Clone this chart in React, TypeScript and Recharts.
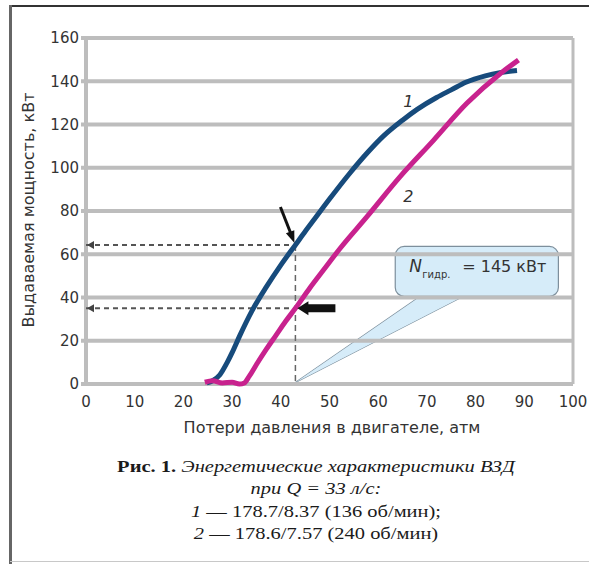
import {
  ComposedChart,
  Line,
  ReferenceArea,
  ReferenceDot,
  ReferenceLine,
  XAxis,
  YAxis
} from "recharts";

// Pressure loss in the motor, atm
const pressureTicks = [0, 10, 20, 30, 40, 50, 60, 70, 80, 90, 100];
// Output power, kW
const powerTicks = [0, 20, 40, 60, 80, 100, 120, 140, 160];

// Curve 1 — 178.7/8.37 (136 rpm)
const pressure1 = [24.8, 26, 27.5, 29, 30, 31.6, 34, 37, 40, 43, 45, 47, 50, 54, 58, 61, 65, 68, 72, 75, 78, 82, 85, 88.5];
const power1 = [0.5, 1.5, 4.3, 10, 14.5, 22.5, 33.5, 44.8, 55, 64.3, 70.5, 76.5, 85.5, 97, 107.5, 114.5, 122, 127, 132.5, 136, 139.5, 142.5, 144, 145];

// Curve 2 — 178.6/7.57 (240 rpm)
const pressure2 = [24.4, 26, 28, 30, 31.5, 32.5, 33.5, 35, 37, 39, 41, 43, 46, 48.8, 52.2, 57.7, 64.5, 71.4, 78.2, 85.1, 88.8];
const power2 = [0.8, 1.5, 0.5, 0.8, 0, 0.5, 3.5, 9, 16, 22.5, 29, 35, 44.5, 52.8, 62.8, 77.4, 95.9, 112.8, 129.8, 143.6, 149.8];

// Marked operating point
const markPressure = 43;
const markPower1 = 64.3;
const markPower2 = 35;

const curve1 = pressure1.map((p, i) => ({ p, n: power1[i] }));
const curve2 = pressure2.map((p, i) => ({ p, n: power2[i] }));

const SANS = "DejaVu Sans, Arial, sans-serif";
const SERIF = "Liberation Serif, Times New Roman, serif";
const GRID = "#bdbdbd";
const TEXT = "#333";

const leftArrowHead = (props: any) => (
  <polygon
    points={`${props.cx + 1},${props.cy} ${props.cx + 8},${props.cy - 4} ${props.cx + 8},${props.cy + 4}`}
    fill="#444"
  />
);

const pointerArrow = (props: any) => {
  const { cx, cy } = props;
  return (
    <g>
      <line x1={cx - 15} y1={cy - 38} x2={cx - 4} y2={cy - 10} stroke="#111" strokeWidth={3} />
      <polygon points={`${cx - 1},${cy - 2} ${cx - 1.1},${cy - 14.8} ${cx - 9.5},${cy - 11.6}`} fill="#111" />
    </g>
  );
};

const blockArrow = (props: any) => {
  const { cx, cy } = props;
  return (
    <polygon
      points={`${cx + 2},${cy} ${cx + 13},${cy - 7} ${cx + 13},${cy - 4} ${cx + 40},${cy - 4} ${cx + 40},${cy + 4} ${cx + 13},${cy + 4} ${cx + 13},${cy + 7}`}
      fill="#111"
    />
  );
};

const curveLabel = (text: string) => (props: any) => (
  <text
    x={props.cx}
    y={props.cy}
    textAnchor="middle"
    dominantBaseline="central"
    fontFamily={SANS}
    fontStyle="italic"
    fontSize={16}
    fill={TEXT}
  >
    {text}
  </text>
);

// Callout tail: tip at the lower-left corner, base on the top edge
const calloutTail = (withStroke: boolean) => (props: any) => {
  const { x, y, width, height } = props;
  const baseLeft = x + width * 0.745;
  const pts = `${x},${y + height} ${baseLeft},${y} ${x + width},${y}`;
  return (
    <polygon
      points={pts}
      fill="#d6ecf9"
      stroke={withStroke ? "#7d8f9c" : "none"}
      strokeWidth={1.2}
    />
  );
};

const calloutBox = (props: any) => {
  const { x, y, width, height } = props;
  return (
    <g>
      <rect x={x} y={y} width={width} height={height} rx={9} ry={9} fill="#d6ecf9" stroke="#7d8f9c" strokeWidth={1.2} />
      <text x={x + 14} y={y + 26} fontFamily={SANS} fontSize={17} fontStyle="italic" fill={TEXT}>
        N
      </text>
      <text x={x + 27} y={y + 32} fontFamily={SANS} fontSize={10} fill={TEXT}>
        гидр.
      </text>
      <text x={x + 67} y={y + 26} fontFamily={SANS} fontSize={16} fill={TEXT}>
        = 145 кВт
      </text>
    </g>
  );
};

export default function App() {
  return (
    <div style={{ position: "absolute", left: 0, top: 0, width: 589, height: 564, background: "#fff", overflow: "hidden" }}>
      <div style={{ position: "absolute", left: 10, top: 5, width: 579, height: 2, background: "#333" }} />
      <div style={{ position: "absolute", left: 9, top: 5, width: 3, height: 559, background: "#666" }} />
      <div style={{ position: "absolute", left: 10, top: 561, width: 579, height: 1, background: "#c8c8c8" }} />

      <div style={{ position: "absolute", left: 0, top: 0 }}>
        <ComposedChart width={589} height={564} margin={{ top: 38, right: 16, bottom: 140, left: 26 }}>
          <XAxis
            type="number"
            dataKey="p"
            domain={[0, 100]}
            ticks={pressureTicks}
            interval={0}
            height={40}
            axisLine={false}
            tickLine={false}
            tickSize={0}
            tickMargin={12}
            tick={{ fontFamily: SANS, fontSize: 15, fill: TEXT }}
          />
          <YAxis
            type="number"
            domain={[0, 160]}
            ticks={powerTicks}
            interval={0}
            width={60}
            axisLine={false}
            tickLine={{ stroke: GRID, strokeWidth: 4 }}
            tickSize={5}
            tickMargin={2}
            tick={{ fontFamily: SANS, fontSize: 15, fill: TEXT }}
          />

          {/* gridlines and plot frame */}
          {powerTicks.map((v) => (
            <ReferenceLine key={`g${v}`} y={v} stroke={GRID} strokeWidth={4} />
          ))}
          <ReferenceLine x={0} stroke={GRID} strokeWidth={4} />
          <ReferenceLine x={100} stroke={GRID} strokeWidth={3} />

          <ReferenceLine
            segment={[{ x: 0, y: markPower1 }, { x: markPressure, y: markPower1 }]}
            stroke="#555"
            strokeWidth={2}
            strokeDasharray="5 4"
          />
          <ReferenceLine
            segment={[{ x: 0, y: markPower2 }, { x: markPressure, y: markPower2 }]}
            stroke="#555"
            strokeWidth={2}
            strokeDasharray="5 4"
          />
          <ReferenceLine
            segment={[{ x: markPressure, y: markPower1 }, { x: markPressure, y: 0 }]}
            stroke="#666"
            strokeWidth={1.5}
            strokeDasharray="6 4"
          />
          <ReferenceDot x={0} y={markPower1} shape={leftArrowHead} />
          <ReferenceDot x={0} y={markPower2} shape={leftArrowHead} />

          <ReferenceArea x1={markPressure} x2={77.4} y1={0.7} y2={40.5} shape={calloutTail(true)} />
          <ReferenceArea x1={63.5} x2={97} y1={40.5} y2={63.6} shape={calloutBox} />
          <ReferenceArea x1={markPressure} x2={77.4} y1={0.7} y2={40.5} shape={calloutTail(false)} />

          <Line
            data={curve1}
            dataKey="n"
            type="monotone"
            stroke="#174b7c"
            strokeWidth={5}
            dot={false}
            activeDot={false}
            isAnimationActive={false}
          />
          <Line
            data={curve2}
            dataKey="n"
            type="monotone"
            stroke="#c8228e"
            strokeWidth={5}
            dot={false}
            activeDot={false}
            isAnimationActive={false}
          />

          <ReferenceDot x={markPressure} y={markPower1} shape={pointerArrow} />
          <ReferenceDot x={markPressure} y={markPower2} shape={blockArrow} />
          <ReferenceDot x={66.2} y={130.5} shape={curveLabel("1")} />
          <ReferenceDot x={66.2} y={86.6} shape={curveLabel("2")} />
        </ComposedChart>
      </div>

      {/* axis titles */}
      <div
        style={{
          position: "absolute",
          left: 29 - 170,
          top: 210 - 10,
          width: 340,
          height: 20,
          lineHeight: "20px",
          textAlign: "center",
          fontFamily: SANS,
          fontSize: 16,
          color: TEXT,
          transform: "rotate(-90deg)",
          whiteSpace: "nowrap"
        }}
      >
        Выдаваемая мощность, кВт
      </div>
      <div
        style={{
          position: "absolute",
          left: 332 - 200,
          top: 428 - 10,
          width: 400,
          height: 20,
          lineHeight: "20px",
          textAlign: "center",
          fontFamily: SANS,
          fontSize: 16,
          color: TEXT,
          whiteSpace: "nowrap"
        }}
      >
        Потери давления в двигателе, атм
      </div>

      <div
        style={{
          position: "absolute",
          left: 0,
          top: 455,
          width: 632,
          textAlign: "center",
          fontFamily: SERIF,
          fontSize: 17.5,
          lineHeight: "22.4px",
          color: "#1a1a1a",
          transform: "scaleX(1.17)",
          transformOrigin: "316px 0"
        }}
      >
        <div>
          <b>Рис. 1.</b> <i>Энергетические характеристики ВЗД</i>
        </div>
        <div>
          <i>при Q = 33 л/с:</i>
        </div>
        <div>
          <i>1</i> — 178.7/8.37 (136 об/мин);
        </div>
        <div>
          <i>2</i> — 178.6/7.57 (240 об/мин)
        </div>
      </div>
    </div>
  );
}
